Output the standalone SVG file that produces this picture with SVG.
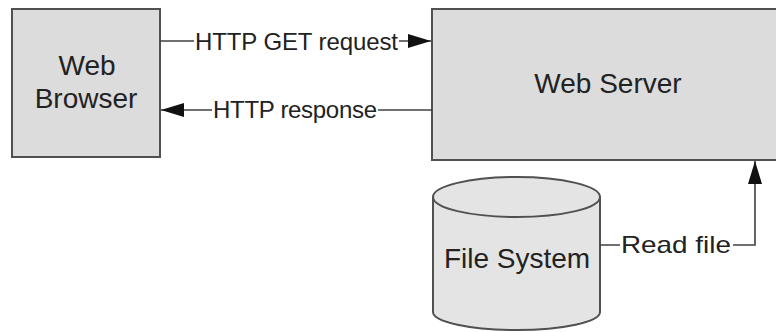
<svg xmlns="http://www.w3.org/2000/svg" width="776" height="332" viewBox="0 0 776 332">
  <style>
    .box { fill: #dcdcdc; stroke: #505050; stroke-width: 2; }
    .cyl { fill: #e4e4e4; stroke: #505050; stroke-width: 2; }
    .node-text { font-family: "Liberation Sans", Arial, sans-serif; font-size: 28px; fill: #222; text-anchor: middle; }
    .edge { fill: none; stroke: #404040; stroke-width: 1.6; }
    .edge-label { font-family: "Liberation Sans", Arial, sans-serif; font-size: 24px; fill: #222; }
    .label-bg { fill: #ffffff; }
  </style>
  <defs>
    <marker id="arrow" markerWidth="24" markerHeight="14" refX="23" refY="7" orient="auto" markerUnits="userSpaceOnUse">
      <path d="M0,0 L23,7 L0,14 Z" fill="#111"/>
    </marker>
  </defs>
  <rect width="776" height="332" fill="#ffffff"/>

  <!-- nodes -->
  <g id="web-browser">
    <rect class="box" x="12" y="9" width="148" height="148"/>
    <text class="node-text" x="87" y="75">Web</text>
    <text class="node-text" x="86" y="108">Browser</text>
  </g>

  <g id="web-server">
    <rect class="box" x="432" y="9" width="352" height="151"/>
    <text class="node-text" x="608" y="93">Web Server</text>
  </g>

  <g id="file-system">
    <path class="cyl" d="M433,197 L433,312 A83.5,18 0 0 0 600,312 L600,197 A83.5,20 0 0 0 433,197 Z"/>
    <path class="cyl" d="M433,197 A83.5,20 0 0 0 600,197"/>
    <text class="node-text" x="517" y="268">File System</text>
  </g>

  <!-- connectors -->
  <g id="connectors">
    <g id="edge-request">
      <path class="edge" d="M160,41 L431,41" marker-end="url(#arrow)"/>
      <rect class="label-bg" x="194" y="28" width="205" height="26"/>
      <text class="edge-label" x="195" y="49.5" textLength="203">HTTP GET request</text>
    </g>
    <g id="edge-response">
      <path class="edge" d="M432,110 L161,110" marker-end="url(#arrow)"/>
      <rect class="label-bg" x="212" y="97" width="166" height="26"/>
      <text class="edge-label" x="213" y="118" textLength="164">HTTP response</text>
    </g>
    <g id="edge-read">
      <path class="edge" d="M600,245 L755,245 L755,161" marker-end="url(#arrow)"/>
      <rect class="label-bg" x="620" y="232" width="113" height="26"/>
      <text class="edge-label" x="621" y="253" font-size="26" textLength="110" lengthAdjust="spacingAndGlyphs">Read file</text>
    </g>
  </g>
</svg>
